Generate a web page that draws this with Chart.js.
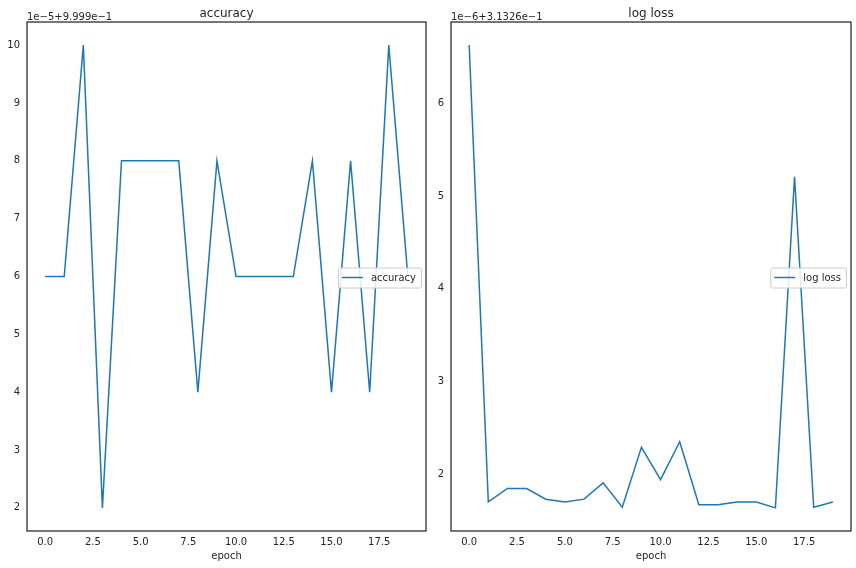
<!DOCTYPE html>
<html>
<head>
<meta charset="utf-8">
<script src="https://cdn.jsdelivr.net/npm/chart.js@4.4.0/dist/chart.umd.min.js"></script>
<style>
html, body { margin: 0; padding: 0; background: #fff; }
#wrap { position: relative; width: 856px; height: 568px; }
canvas { position: absolute; top: 0; }
</style>
</head>
<body>
<div id="wrap">
  <canvas id="acc" width="428" height="568" style="left:0"></canvas>
  <canvas id="loss" width="428" height="568" style="left:428px"></canvas>
</div>
<script>
// values, in offset units shown at the top of each axis
var epochs = [0, 1, 2, 3, 4, 5, 6, 7, 8, 9, 10, 11, 12, 13, 14, 15, 16, 17, 18, 19];
var accuracy = [6, 6, 10, 2, 8, 8, 8, 8, 4, 8, 6, 6, 6, 6, 8, 4, 8, 4, 10, 6];
var logLoss = [6.63, 1.70, 1.845, 1.845, 1.73, 1.70, 1.73, 1.906, 1.643, 2.29, 1.94, 2.35,
               1.67, 1.67, 1.70, 1.70, 1.636, 5.21, 1.643, 1.70];
var xTicks = [0, 2.5, 5, 7.5, 10, 12.5, 15, 17.5];
var accTicks = [2, 3, 4, 5, 6, 7, 8, 9, 10];
var lossTicks = [2, 3, 4, 5, 6];

var FONT = "'DejaVu Sans', sans-serif";
var INK = '#262626';
var BLUE = '#1f77b4';

// matplotlib style frame, title, offset text and legend
var mplFrame = {
  id: 'mplframe',
  afterDraw: function(chart, args, opts) {
    var ctx = chart.ctx, a = chart.chartArea;
    ctx.save();
    ctx.strokeStyle = INK;
    ctx.lineWidth = 1.25;
    ctx.strokeRect(a.left, a.top, a.right - a.left, a.bottom - a.top);

    ctx.fillStyle = INK;
    ctx.textBaseline = 'alphabetic';
    ctx.font = '12px ' + FONT;
    ctx.textAlign = 'center';
    ctx.fillText(opts.title, (a.left + a.right) / 2, 17);
    ctx.font = '10px ' + FONT;
    ctx.textAlign = 'left';
    ctx.fillText(opts.offset, a.left, 20);

    // legend, center right
    var tw = ctx.measureText(opts.label).width;
    var w = 5 + 20 + 8 + tw + 5, h = 20;
    var x = a.right - 5 - w, y = (a.top + a.bottom) / 2 - h / 2 + 1;
    ctx.beginPath();
    ctx.roundRect(x + 0.5, y + 0.5, w, h, 2);
    ctx.fillStyle = 'rgba(255,255,255,0.85)';
    ctx.fill();
    ctx.strokeStyle = '#cccccc';
    ctx.lineWidth = 1;
    ctx.stroke();
    ctx.beginPath();
    ctx.moveTo(x + 4, y + h / 2);
    ctx.lineTo(x + 25, y + h / 2);
    ctx.strokeStyle = BLUE;
    ctx.lineWidth = 1.5;
    ctx.stroke();
    ctx.fillStyle = INK;
    ctx.textBaseline = 'middle';
    ctx.fillText(opts.label, x + 33, y + h / 2 + 0.5);
    ctx.restore();
  }
};

function padded(vals) {
  var lo = Math.min.apply(null, vals), hi = Math.max.apply(null, vals);
  var m = (hi - lo) * 0.05;
  return [lo - m, hi + m];
}

function makeChart(id, values, yTicks, title, offset, yWidth, rightPad) {
  var yr = padded(values), xr = padded(epochs);
  return new Chart(document.getElementById(id), {
    type: 'line',
    data: {
      datasets: [{
        label: title,
        data: epochs.map(function(e, i) { return { x: e, y: values[i] }; }),
        borderColor: BLUE,
        borderWidth: 1.5,
        pointRadius: 0,
        tension: 0,
        fill: false
      }]
    },
    options: {
      responsive: false,
      animation: false,
      devicePixelRatio: 1,
      layout: { padding: { top: 22, right: rightPad, bottom: 0, left: 0 } },
      plugins: {
        legend: { display: false },
        tooltip: { enabled: false },
        mplframe: { title: title, offset: offset, label: title }
      },
      scales: {
        x: {
          type: 'linear',
          min: xr[0], max: xr[1],
          grid: { display: false, drawTicks: false },
          border: { display: false },
          afterBuildTicks: function(s) { s.ticks = xTicks.map(function(v) { return { value: v }; }); },
          afterFit: function(s) { s.height = 37; },
          ticks: {
            autoSkip: false, maxRotation: 0, padding: 5,
            color: INK, font: { family: FONT, size: 10 },
            callback: function(v) { return Number(v).toFixed(1); }
          },
          title: {
            display: true, text: 'epoch', color: INK,
            font: { family: FONT, size: 10 }, padding: { top: 0, bottom: 6 }
          }
        },
        y: {
          min: yr[0], max: yr[1],
          grid: { display: false, drawTicks: false },
          border: { display: false },
          afterBuildTicks: function(s) { s.ticks = yTicks.map(function(v) { return { value: v }; }); },
          afterFit: function(s) { s.width = yWidth; },
          ticks: {
            autoSkip: false, padding: 7,
            color: INK, font: { family: FONT, size: 10 },
            callback: function(v) { return String(v); }
          }
        }
      }
    },
    plugins: [mplFrame]
  });
}

makeChart('acc', accuracy, accTicks, 'accuracy', '1e\u22125+9.999e\u22121', 27, 2);
makeChart('loss', logLoss, lossTicks, 'log loss', '1e\u22126+3.1326e\u22121', 23, 5);
</script>
</body>
</html>
